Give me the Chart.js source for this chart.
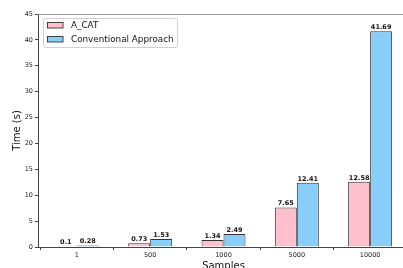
<!DOCTYPE html>
<html>
<head>
<meta charset="utf-8">
<script src="https://cdn.jsdelivr.net/npm/chart.js@4/dist/chart.umd.min.js"></script>
<style>
html,body{margin:0;padding:0;background:#fff;overflow:hidden;}
#wrap{width:403px;height:268px;overflow:hidden;position:relative;}
canvas{display:block;}
</style>
</head>
<body>
<div id="wrap"><canvas id="c" width="410" height="268" style="width:410px;height:268px"></canvas></div>
<script>
const categories = ["1", "500", "1000", "5000", "10000"];
const acatValues = [0.1, 0.73, 1.34, 7.65, 12.58];
const convValues = [0.28, 1.53, 2.49, 12.41, 41.69];
const seriesNames = ["A_CAT", "Conventional Approach"];
const yTicks = [0, 5, 10, 15, 20, 25, 30, 35, 40, 45];

const FONT = "'DejaVu Sans', sans-serif";

const extras = {
  id: 'extras',
  afterDatasetsDraw(chart) {
    const ctx = chart.ctx;
    const ca = chart.chartArea;
    ctx.save();
    // top spine
    ctx.strokeStyle = '#999';
    ctx.lineWidth = 1.2;
    ctx.beginPath();
    ctx.moveTo(ca.left, ca.top + 0.5);
    ctx.lineTo(ca.right, ca.top + 0.5);
    ctx.stroke();
    // value labels
    ctx.font = "bold 6.5px " + FONT;
    ctx.fillStyle = '#111';
    ctx.textAlign = 'center';
    ctx.textBaseline = 'bottom';
    chart.data.datasets.forEach((ds, di) => {
      const meta = chart.getDatasetMeta(di);
      meta.data.forEach((bar, i) => {
        ctx.fillText(String(ds.data[i].y), bar.x, bar.y - 0.5);
      });
    });
    // legend
    const lx = 43, ly = 18, lw = 134, lh = 29, r = 2;
    ctx.fillStyle = 'rgba(255,255,255,0.85)';
    ctx.strokeStyle = '#d0d0d0';
    ctx.lineWidth = 1;
    ctx.beginPath();
    ctx.roundRect(lx + 0.5, ly + 0.5, lw, lh, r);
    ctx.fill();
    ctx.stroke();
    ctx.font = "8.8px " + FONT;
    ctx.textAlign = 'left';
    ctx.textBaseline = 'middle';
    chart.data.datasets.forEach((ds, di) => {
      const py = ly + 4 + di * 14;
      ctx.fillStyle = ds.backgroundColor;
      ctx.fillRect(47, py, 16, 6);
      ctx.strokeStyle = '#333';
      ctx.lineWidth = 0.9;
      ctx.strokeRect(47.5, py + 0.5, 15.5, 5.5);
      ctx.fillStyle = '#111';
      ctx.fillText(ds.label, 71, py + 3.3);
    });
    ctx.restore();
  }
};

new Chart(document.getElementById('c'), {
  type: 'bar',
  data: {
    datasets: [
      { label: seriesNames[0], data: acatValues.map((v, i) => ({x: i, y: v})),
        backgroundColor: '#FFC0CB', borderColor: '#333', borderWidth: 1 },
      { label: seriesNames[1], data: convValues.map((v, i) => ({x: i, y: v})),
        backgroundColor: '#87CEFA', borderColor: '#333', borderWidth: 1 }
    ]
  },
  options: {
    responsive: false,
    animation: false,
    devicePixelRatio: 1,
    categoryPercentage: 0.6,
    barPercentage: 1.0,
    layout: { padding: { top: 14, right: 1, left: 0, bottom: 0 } },
    plugins: { legend: { display: false }, tooltip: { enabled: false } },
    scales: {
      x: {
        type: 'linear',
        min: -0.53, max: 4.53,
        offset: false,
        afterBuildTicks: (s) => { s.ticks = categories.map((c, i) => ({value: i})); },
        afterFit: (s) => { s.height = 21; },
        ticks: { callback: (v) => categories[v], color: '#222', font: { family: FONT, size: 6.5 }, padding: 1, maxRotation: 0, autoSkip: false },
        grid: { drawOnChartArea: false, drawTicks: true, tickLength: 3, color: '#444' },
        border: { color: '#444', width: 1 },
        title: { display: true, text: 'Samples', color: '#111', font: { family: FONT, size: 10 }, padding: { top: 0, bottom: -4 } }
      },
      y: {
        min: 0, max: 45,
        afterBuildTicks: (s) => { s.ticks = yTicks.map(v => ({value: v})); },
        afterFit: (s) => { s.width = 38; },
        ticks: { color: '#222', font: { family: FONT, size: 6.5 }, padding: 2 },
        grid: { drawOnChartArea: false, drawTicks: true, tickLength: 3, color: '#444' },
        border: { color: '#444', width: 1 },
        title: { display: true, text: 'Time (s)', color: '#111', font: { family: FONT, size: 10 }, padding: { top: 11, bottom: 0 } }
      }
    }
  },
  plugins: [extras]
});
</script>
</body>
</html>
